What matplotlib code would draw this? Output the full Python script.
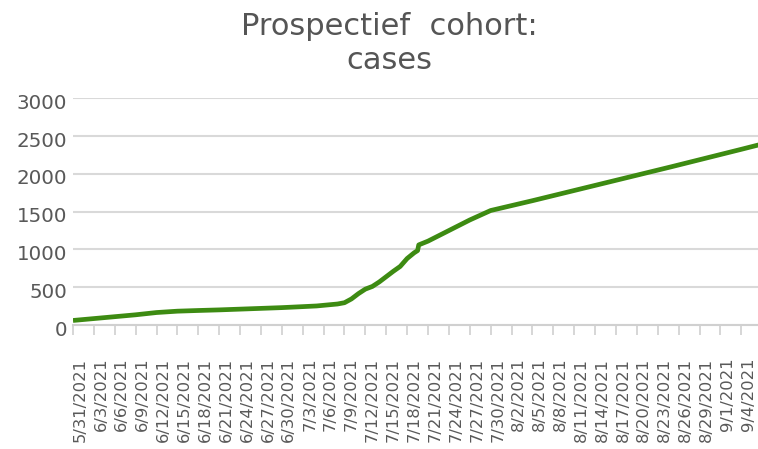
import matplotlib
matplotlib.use("Agg")
import matplotlib.pyplot as plt
import matplotlib.transforms as mtransforms
import pandas as pd

# ---- data ----
dates = ['2021-05-31 00:00', '2021-06-03 00:00', '2021-06-06 00:00', '2021-06-09 00:00',
         '2021-06-12 00:00', '2021-06-15 00:00', '2021-06-18 00:00', '2021-06-21 00:00',
         '2021-06-24 00:00', '2021-06-27 00:00', '2021-06-30 00:00', '2021-07-03 00:00',
         '2021-07-05 00:00', '2021-07-08 00:00', '2021-07-09 00:00', '2021-07-10 00:00',
         '2021-07-11 00:00', '2021-07-12 00:00', '2021-07-13 00:00', '2021-07-14 00:00',
         '2021-07-15 00:00', '2021-07-16 00:00', '2021-07-17 00:00', '2021-07-18 00:00',
         '2021-07-19 00:00', '2021-07-19 12:00', '2021-07-19 16:00', '2021-07-21 00:00',
         '2021-07-24 00:00', '2021-07-27 00:00', '2021-07-30 00:00', '2021-08-05 00:00',
         '2021-08-15 00:00', '2021-08-25 00:00', '2021-09-04 00:00', '2021-09-07 00:00']
cases = [60, 85, 110, 135,
         165, 183, 192, 200,
         210, 220, 230, 243,
         252, 278, 295, 345,
         415, 475, 510, 570,
         640, 710, 775, 880,
         955, 985, 1060, 1110,
         1250, 1390, 1515, 1645,
         1870, 2095, 2325, 2395]
yticks = [0, 500, 1000, 1500, 2000, 2500, 3000]
tick_start = '2021-05-31'
tick_end = '2021-09-04'
tick_step_days = 3
title = "Prospectief  cohort:\ncases"

# ---- figure ----
plt.rcParams['font.family'] = ['DejaVu Sans']
fig = plt.figure(figsize=(7.58, 4.49), dpi=100)
W, H = 758, 449
ax = fig.add_axes([73 / W, 1 - 325 / H, (W - 73) / W, (325 - 98.3) / H])

x = pd.to_datetime(dates, format='%Y-%m-%d %H:%M')
ax.plot(x, cases, color='#3d8b12', lw=3.4, solid_capstyle='butt',
        solid_joinstyle='round', zorder=3)

t0 = pd.Timestamp(tick_start)
ax.set_xlim(t0, t0 + pd.Timedelta(days=98.4))
ax.set_ylim(0, 3000)

# y axis
ax.set_yticks(yticks)
ax.set_yticklabels([str(v) for v in yticks])
ax.yaxis.grid(True, color='#d9d9d9', lw=1.5)
ax.set_axisbelow(True)
ax.tick_params(axis='y', length=0, pad=4.3, labelsize=14.3, labelcolor='#595959')
yoff = mtransforms.ScaledTranslation(0, -3 / 100, fig.dpi_scale_trans)
for lab in ax.get_yticklabels():
    lab.set_transform(lab.get_transform() + yoff)

# x axis
ticks = pd.date_range(tick_start, tick_end, freq=f'{tick_step_days}D')
ax.set_xticks(ticks)
ax.set_xticklabels([f"{d.month}/{d.day}/{d.year}" for d in ticks],
                   rotation=90, ha='center', va='top')
ax.tick_params(axis='x', length=7, width=1.2, color='#d0d0d0', direction='out',
               pad=16.5, labelsize=11.8, labelcolor='#595959')
offset = mtransforms.ScaledTranslation(7 / 100, 0, fig.dpi_scale_trans)
for lab in ax.get_xticklabels():
    lab.set_transform(lab.get_transform() + offset)

for s in ['top', 'right', 'left']:
    ax.spines[s].set_visible(False)
ax.spines['bottom'].set_color('#d0d0d0')
ax.spines['bottom'].set_linewidth(1.5)

fig.text(389 / W, 1 - 12 / H, title, ha='center', va='top', fontsize=22,
         color='#555555', linespacing=1.2)

fig.savefig('out.png', dpi=100)
